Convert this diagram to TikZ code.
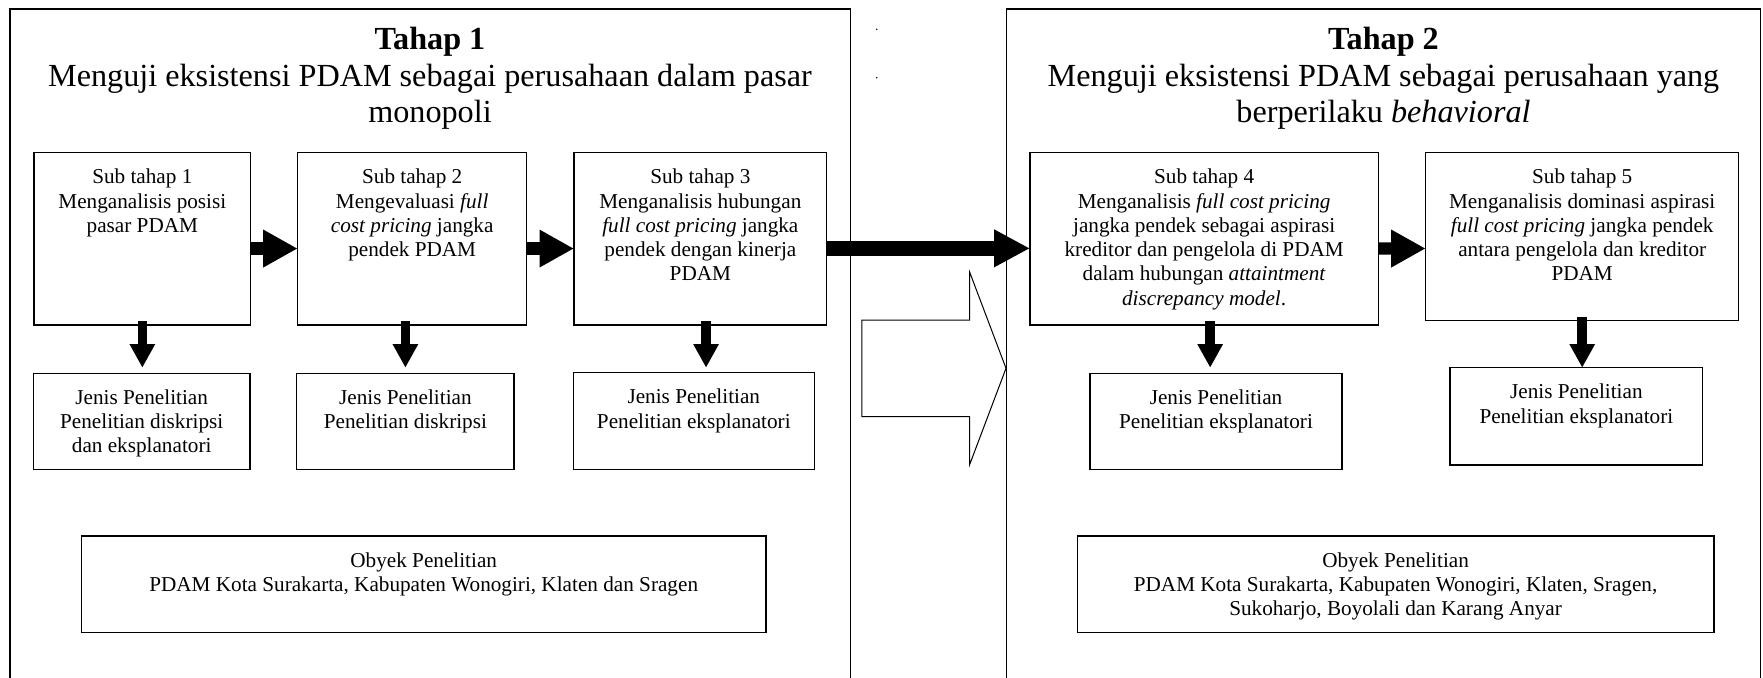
\documentclass[tikz,border=0pt]{standalone}
\usepackage{fontspec}
\setmainfont{Liberation Serif}[ItalicFont={Liberation Serif Italic},BoldFont={Liberation Serif Bold}]
\usetikzlibrary{arrows.meta,calc}
\begin{document}
\begin{tikzpicture}[x=1pt,y=-1pt,
  box/.style={draw, line width=1.3pt, inner sep=0pt, outer sep=0pt},
  frame/.style={draw, line width=1.3pt},
  txt/.style={anchor=north, inner sep=0pt, align=center, font=\fontsize{21.2}{24.3}\selectfont},
  ttl/.style={anchor=north, inner sep=0pt, align=center, font=\fontsize{32.2}{36.3}\selectfont},
  harrow/.style={line width=12.3pt, -{Triangle[length=34.5pt,width=35.3pt]}},
  bigarrow/.style={line width=14.7pt, -{Triangle[length=36pt,width=35.3pt]}},
  darrow/.style={line width=9.5pt, -{Triangle[length=23.7pt,width=24pt]}},
  hollow/.style={draw, line width=1pt, fill=white},
]
\useasboundingbox (0,0) rectangle (1763,677);

% outer frames (bottom edges lie below the picture)
\draw[frame] (10,680) -- (10,9) -- (850.5,9) -- (850.5,680);
\draw[frame] (1006.7,680) -- (1006.7,9) -- (1760.3,9) -- (1760.3,680);

% tiny dots
\fill (876.7,29.3) circle (0.8);
\fill (876.7,77.7) circle (0.8);

% titles
\node[ttl] (h1) at (430,24.3) {\strut\textbf{Tahap 1}\\Menguji eksistensi PDAM sebagai perusahaan dalam pasar\hspace*{8pt}\\monopoli};
\node[ttl] (h2) at (1383.5,24.3) {\strut\textbf{Tahap 2}\\Menguji eksistensi PDAM sebagai perusahaan yang\\berperilaku \textit{behavioral}};

% sub stage boxes
\node[box, minimum width=216.7pt, minimum height=172.3pt] (s1) at (142.35,238.85) {};
\node[box, minimum width=229pt,   minimum height=172.3pt] (s2) at (412.2,238.85) {};
\node[box, minimum width=252.7pt, minimum height=172.3pt] (s3) at (700.35,238.85) {};
\node[box, minimum width=348.3pt, minimum height=172.3pt] (s4) at (1204.15,238.85) {};
\node[box, minimum width=313pt,   minimum height=168pt]   (s5) at (1582.2,236.7) {};

\node[txt] (s1t) at ($(s1.north)+(0,13.8)$) {\strut Sub tahap 1\\Menganalisis posisi\\pasar PDAM};
\node[txt] (s2t) at ($(s2.north)+(0,13.8)$) {\strut Sub tahap 2\\Mengevaluasi \textit{full}\\\textit{cost pricing} jangka\\pendek PDAM};
\node[txt] (s3t) at ($(s3.north)+(0,13.8)$) {\strut Sub tahap 3\\Menganalisis hubungan\\\textit{full cost pricing} jangka\\pendek dengan kinerja\\PDAM};
\node[txt] (s4t) at ($(s4.north)+(0,13.8)$) {\strut Sub tahap 4\\Menganalisis \textit{full cost pricing}\\jangka pendek sebagai aspirasi\\kreditor dan pengelola di PDAM\\dalam hubungan \textit{attaintment}\\\textit{discrepancy model}.};
\node[txt] (s5t) at ($(s5.north)+(0,13.8)$) {\strut Sub tahap 5\\Menganalisis dominasi aspirasi\\\textit{full cost pricing} jangka pendek\\antara pengelola dan kreditor\\PDAM};

% research type boxes
\node[box, minimum width=216.7pt, minimum height=96pt]   (j1) at (141.7,421.3) {};
\node[box, minimum width=217.4pt, minimum height=96pt]   (j2) at (405.4,421.3) {};
\node[box, minimum width=241pt,   minimum height=96.6pt] (j3) at (693.8,421) {};
\node[box, minimum width=252pt,   minimum height=96pt]   (j4) at (1216,421.3) {};
\node[box, minimum width=252.7pt, minimum height=97.3pt] (j5) at (1576.35,416.35) {};

\node[txt] (j1t) at ($(j1.north)+(0,13.8)$) {\strut Jenis Penelitian\\Penelitian diskripsi\\dan eksplanatori};
\node[txt] (j2t) at ($(j2.north)+(0,13.8)$) {\strut Jenis Penelitian\\Penelitian diskripsi};
\node[txt] (j3t) at ($(j3.north)+(0,13.8)$) {\strut Jenis Penelitian\\Penelitian eksplanatori};
\node[txt] (j4t) at ($(j4.north)+(0,13.8)$) {\strut Jenis Penelitian\\Penelitian eksplanatori};
\node[txt] (j5t) at ($(j5.north)+(0,13.8)$) {\strut Jenis Penelitian\\Penelitian eksplanatori};

% object boxes
\node[box, minimum width=684.6pt, minimum height=96.7pt] (o1) at (423.7,584.35) {};
\node[box, minimum width=636.8pt, minimum height=96.7pt] (o2) at (1395.6,584.35) {};
\node[txt] (o1t) at ($(o1.north)+(0,13.8)$) {\strut Obyek Penelitian\\PDAM Kota Surakarta, Kabupaten Wonogiri, Klaten dan Sragen};
\node[txt] (o2t) at ($(o2.north)+(0,13.8)$) {\strut Obyek Penelitian\\PDAM Kota Surakarta, Kabupaten Wonogiri, Klaten, Sragen,\\Sukoharjo, Boyolali dan Karang Anyar};

% horizontal arrows
\draw[harrow] ($(s1.east)+(0,9.7)$) -- ($(s2.west)+(0,9.7)$);
\draw[harrow] ($(s2.east)+(0,9.7)$) -- ($(s3.west)+(0,9.7)$);
\draw[bigarrow] ($(s3.east)+(0,9.5)$) -- ($(s4.west)+(0,9.5)$);
\draw[harrow] ($(s4.east)+(0,9.7)$) -- ($(s5.west)+(0,11.8)$);

% downward arrows
\draw[darrow] ($(s1.south)+(0,-4)$) -- ($(s1.south |- j1.north)+(0,-5.6)$);
\draw[darrow] ($(j2.north |- s2.south)+(0,-4)$) -- ($(j2.north)+(0,-5.6)$);
\draw[darrow] ($(s3.south)+(5.7,-4)$) -- ($(s3.south |- j3.north)+(5.7,-5.0)$);
\draw[darrow] ($(s4.south)+(6,-4)$) -- ($(s4.south |- j4.north)+(6,-5.6)$);
\draw[darrow] ($(s5.south)+(0,-4)$) -- ($(s5.south |- j5.north)+(0,0)$);

% hollow block arrow between the two stages
\draw[hollow] (861.8,320) -- (969.5,320) -- (969.5,271.7) -- (1006,368.3) -- (969.5,465) -- (969.5,416.7) -- (861.8,416.7) -- cycle;
\end{tikzpicture}
\end{document}
